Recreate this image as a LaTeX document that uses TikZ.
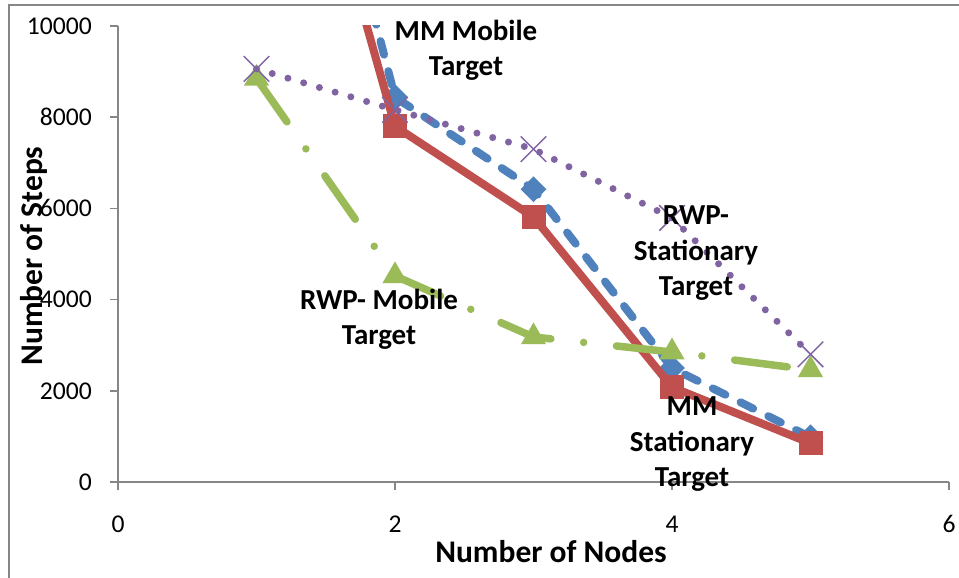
\documentclass[tikz,border=0pt]{standalone}
\usepackage{fontspec}
\setmainfont{Carlito}
\usetikzlibrary{shapes.geometric,shapes.misc}
\definecolor{sred}{HTML}{C0504D}
\definecolor{sblue}{HTML}{4F81BD}
\definecolor{sgreen}{HTML}{9BBB59}
\definecolor{spurple}{HTML}{8064A2}
\definecolor{axisgray}{HTML}{868686}
\begin{document}
\begin{tikzpicture}[x=1pt,y=1pt,
  axisline/.style={draw=axisgray, line width=1.5pt},
  ticklab/.style={font=\fontsize{25.6}{30}\selectfont, inner sep=0pt},
  axtitle/.style={font=\fontsize{31.5}{36}\selectfont\bfseries, inner sep=0pt},
  serlab/.style={font=\fontsize{29}{35.5}\selectfont\bfseries, align=center, inner sep=0pt},
  redline/.style={draw=sred, line width=8pt, line join=round},
  blueline/.style={draw=sblue, line width=8pt, line cap=round, line join=round, dash pattern=on 14pt off 17pt},
  greenline/.style={draw=sgreen, line width=7.5pt, line cap=round, line join=round, dash pattern=on 53pt off 33pt on 0pt off 33pt},
  purpleline/.style={draw=spurple, line width=7pt, line cap=round, line join=round, dash pattern=on 0pt off 16.4pt},
  sqmark/.style={rectangle, fill=sred, minimum size=24pt, inner sep=0pt},
  dmmark/.style={diamond, fill=sblue, minimum size=26pt, inner sep=0pt},
  trmark/.style={regular polygon, regular polygon sides=3, fill=sgreen, minimum size=29pt, inner sep=0pt},
  xmark/.style={cross out, draw=spurple, line width=1.5pt, minimum size=24pt, inner sep=0pt}]
\useasboundingbox (0,0) rectangle (959,578);
\draw[draw=axisgray, line width=2pt] (9,-5) -- (9,573) -- (965,573);
\begin{scope}[shift={(118pt,96pt)}, x=138.5pt, y=45.6pt]
  % axes
  \draw[axisline] (0,0) -- (6,0);
  \draw[axisline] (0,0) -- (0,10);
  \foreach \v/\t in {0/0,2/2000,4/4000,6/6000,8/8000,10/10000}{
    \draw[axisline] (0,\v) -- ++(-8pt,0);
    \node[ticklab, anchor=east] (yl\v) at ([xshift=-26pt]0,\v) {\t};
  }
  \foreach \v in {0,2,4,6}{
    \draw[axisline] (\v,0) -- ++(0,-8pt);
    \node[ticklab, anchor=base] (xl\v) at ([yshift=-51pt]\v,0) {\v};
  }
  % data coordinates
  \coordinate (b1) at (1,20.2);
  \coordinate (b2) at (2,8.44);
  \coordinate (b3) at (3,6.42);
  \coordinate (b4) at (4,2.5);
  \coordinate (b5) at (5,0.98);
  \coordinate (r1) at (1,18.6);
  \coordinate (r2) at (2,7.8);
  \coordinate (r3) at (3,5.81);
  \coordinate (r4) at (4,2.08);
  \coordinate (r5) at (5,0.85);
  \coordinate (g1) at (1,8.85);
  \coordinate (g2) at (2,4.52);
  \coordinate (g3) at (3,3.18);
  \coordinate (g4) at (4,2.85);
  \coordinate (g5) at (5,2.46);
  \coordinate (p1) at (1,9.06);
  \coordinate (p2) at (2,8.16);
  \coordinate (p3) at (3,7.3);
  \coordinate (p4) at (4,5.79);
  \coordinate (p5) at (5,2.8);
  % blue series
  \begin{scope}
    \clip (0,0) rectangle (6,10);
    \draw[blueline] (b1) -- (b2) -- (b3) -- (b4) -- (b5);
  \end{scope}
  \foreach \i in {2,3,4,5}{\node[dmmark] (bm\i) at (b\i) {};}
  % red series
  \begin{scope}
    \clip (0,0) rectangle (6,10);
    \draw[redline] (r1) -- (r2) -- (r3) -- (r4) -- (r5);
  \end{scope}
  \foreach \i in {2,3,4,5}{\node[sqmark] (rm\i) at (r\i) {};}
  % green series
  \draw[greenline] (g1) -- (g2) -- (g3) -- (g4) -- (g5);
  \foreach \i in {1,2,3,4,5}{\node[trmark] (gm\i) at (g\i) {};}
  % purple series
  \draw[purpleline] (p1) -- (p2) -- (p3) -- (p4) -- (p5);
  \foreach \i in {1,2,3,4,5}{\node[xmark] (pm\i) at (p\i) {};}
\end{scope}
% axis titles
\node[axtitle, anchor=base] (xt) at (551,15) {Number of Nodes};
\node[axtitle, anchor=base, rotate=90] (yt) at (42,322) {Number of Steps};
% series labels (anchor=base is the last line's baseline)
\node[serlab, anchor=base] (lmm) at (466,502) {MM Mobile\\Target};
\node[serlab, anchor=base] (lrs) at (696,282) {RWP-\\Stationary\\Target};
\node[serlab, anchor=base] (lrm) at (379,233) {RWP- Mobile\\Target};
\node[serlab, anchor=base] (lms) at (692,91) {MM\\Stationary\\Target};
\end{tikzpicture}
\end{document}
